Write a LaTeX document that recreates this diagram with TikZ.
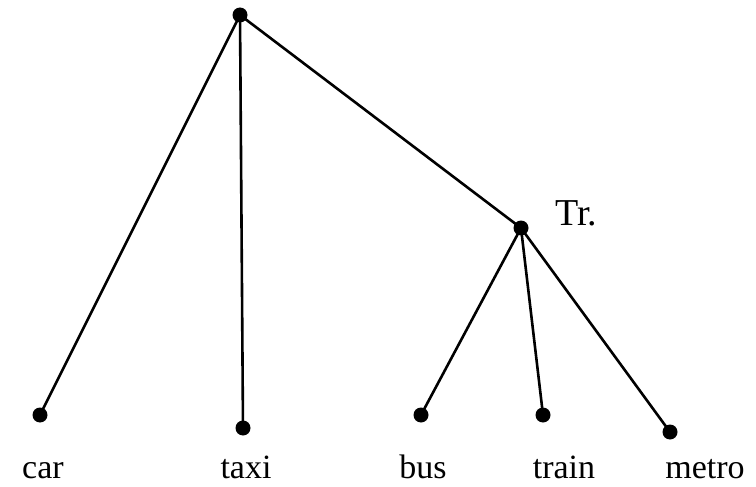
\documentclass[tikz,border=0pt]{standalone}
\usepackage{fontspec}
\setmainfont{Liberation Serif}
\usetikzlibrary{positioning}
\tikzset{
  dot/.style={circle, fill=black, inner sep=0pt, minimum size=15pt},
  edge/.style={line width=2.6pt, draw=black},
  leaf/.style={anchor=base, inner sep=0pt, font=\fontsize{34}{38}\selectfont},
  tag/.style={anchor=base west, inner sep=0pt, font=\fontsize{38}{42}\selectfont},
}

\begin{document}
\begin{tikzpicture}[x=1pt, y=-1pt]
  \useasboundingbox (0,0) rectangle (756,487);

  % inner nodes
  \node[dot] (root) at (240,15) {};
  \node[dot] (tr) at (521,228) {};
  \node[tag] (trlbl) at (555,225) {Tr.};

  % leaves
  \node[dot] (car)   at (40,415)  {};
  \node[dot] (taxi)  at (243,428) {};
  \node[dot] (bus)   at (421,415) {};
  \node[dot] (train) at (543,415) {};
  \node[dot] (metro) at (670,432) {};

  \node[leaf] (carlbl)   at (43,478)  {car};
  \node[leaf] (taxilbl)  at (246,478) {taxi};
  \node[leaf] (buslbl)   at (423,478) {bus};
  \node[leaf] (trainlbl) at (564,478) {train};
  \node[leaf] (metrolbl) at (705,478) {metro};

  % branches
  \draw[edge] (root.center) -- (car.center);
  \draw[edge] (root.center) -- (taxi.center);
  \draw[edge] (root.center) -- (tr.center);
  \draw[edge] (tr.center) -- (bus.center);
  \draw[edge] (tr.center) -- (train.center);
  \draw[edge] (tr.center) -- (metro.center);
\end{tikzpicture}
\end{document}
